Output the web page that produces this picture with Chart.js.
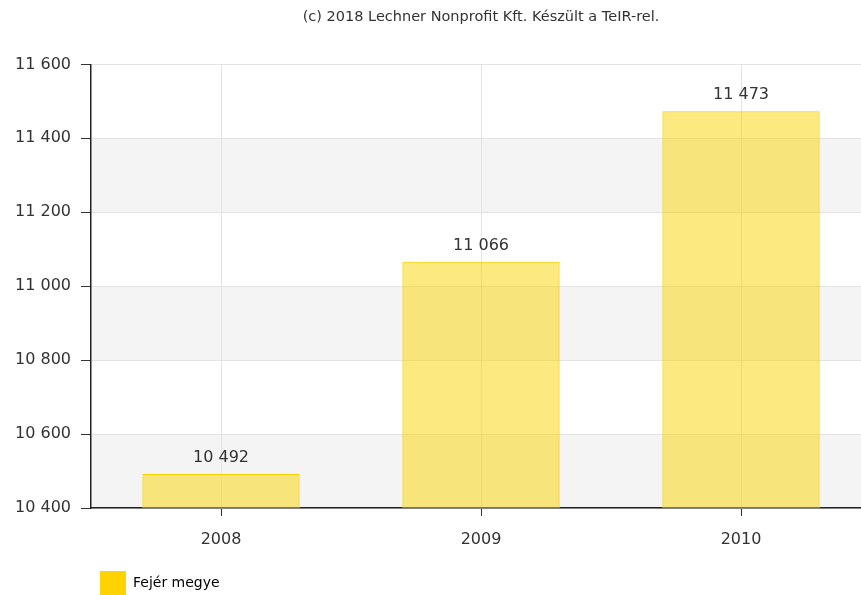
<!DOCTYPE html>
<html>
<head>
<meta charset="utf-8">
<script src="https://cdn.jsdelivr.net/npm/chart.js@4/dist/chart.umd.min.js"></script>
<style>
  html, body { margin: 0; padding: 0; background: #fff; overflow: hidden; }
  #wrap { width: 875px; height: 605px; }
</style>
</head>
<body>
<div id="wrap"><canvas id="chart"></canvas></div>
<script>
// chart data
const years = ['2008', '2009', '2010'];
const population = [10492, 11066, 11473];
const seriesName = 'Fejér megye';
const yTicks = [10400, 10600, 10800, 11000, 11200, 11400, 11600];
const credit = '(c) 2018 Lechner Nonprofit Kft. Készült a TeIR-rel.';

const FONT = "'DejaVu Sans', Verdana, sans-serif";

function fmt(v) {
  return String(v).replace(/\B(?=(\d{3})+(?!\d))/g, ' ');
}

// grey stripes between every other tick
const bandsPlugin = {
  id: 'bands',
  beforeDraw(chart) {
    const { ctx, chartArea } = chart;
    const y = chart.scales.y;
    ctx.save();
    ctx.fillStyle = '#f4f4f4';
    for (let i = 0; i < yTicks.length - 1; i += 2) {
      const top = y.getPixelForValue(yTicks[i + 1]);
      const bottom = y.getPixelForValue(yTicks[i]);
      ctx.fillRect(chartArea.left, top, chartArea.right - chartArea.left, bottom - top);
    }
    ctx.restore();
  }
};

// value labels on top of the bars
const valueLabels = {
  id: 'valueLabels',
  afterDatasetsDraw(chart) {
    const { ctx } = chart;
    const meta = chart.getDatasetMeta(0);
    ctx.save();
    ctx.font = '16px ' + FONT;
    ctx.fillStyle = '#333';
    ctx.textAlign = 'center';
    ctx.textBaseline = 'alphabetic';
    meta.data.forEach((bar, i) => {
      ctx.fillText(fmt(population[i]), bar.x, bar.y - 12);
    });
    ctx.restore();
  }
};

new Chart(document.getElementById('chart'), {
  type: 'bar',
  data: {
    labels: years,
    datasets: [{
      label: seriesName,
      data: population,
      backgroundColor: 'rgba(250, 212, 0, 0.5)',
      borderColor: '#f5d000',
      borderWidth: 1,
      borderSkipped: 'bottom',
      categoryPercentage: 0.605,
      barPercentage: 1.0
    }]
  },
  options: {
    responsive: true,
    maintainAspectRatio: false,
    animation: false,
    layout: { padding: { left: 0, right: 4, top: 0, bottom: 0 } },
    scales: {
      x: {
        afterFit(scale) { scale.height = 54; },
        grid: { offset: false, color: '#e3e3e3', tickColor: '#333', tickLength: 8 },
        border: { color: '#222', width: 1.5 },
        ticks: { color: '#333', font: { family: FONT, size: 16 }, padding: 14 }
      },
      y: {
        min: 10400,
        max: 11600,
        afterFit(scale) { scale.width = 91; },
        afterBuildTicks(scale) { scale.ticks = yTicks.map(v => ({ value: v })); },
        grid: { color: '#e3e3e3', tickColor: '#333', tickLength: 10 },
        border: { color: '#222', width: 1.5 },
        ticks: {
          color: '#333',
          font: { family: FONT, size: 16 },
          padding: 10,
          callback: v => fmt(v)
        }
      }
    },
    plugins: {
      title: {
        display: true,
        fullSize: false,
        text: credit,
        color: '#333',
        font: { family: FONT, size: 14.5, weight: 'normal' },
        padding: { top: 9, bottom: 38 }
      },
      legend: {
        position: 'bottom',
        align: 'start',
        fullSize: false,
        labels: {
          color: '#333',
          font: { family: FONT, size: 14 },
          boxWidth: 26,
          boxHeight: 24,
          padding: 9,
          generateLabels: chart => [{
            text: seriesName,
            fillStyle: '#ffd200',
            strokeStyle: '#ffd200',
            lineWidth: 0,
            datasetIndex: 0
          }]
        }
      },
      tooltip: { enabled: false }
    }
  },
  plugins: [bandsPlugin, valueLabels]
});
</script>
</body>
</html>
